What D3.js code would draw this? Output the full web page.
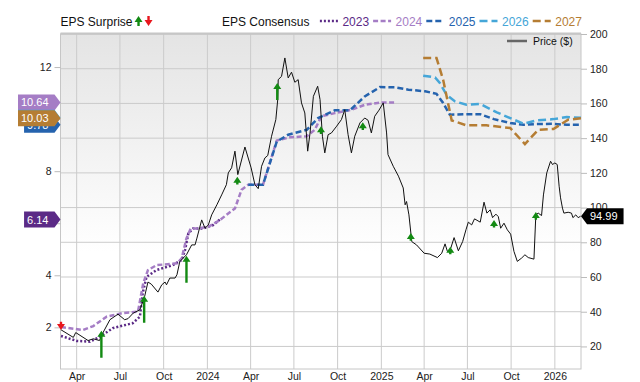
<!DOCTYPE html>
<html>
<head>
<meta charset="utf-8">
<script src="https://cdn.jsdelivr.net/npm/d3@7"></script>
<style>
body { margin: 0; background: #fff; }
svg { display: block; font-family: "Liberation Sans", Arial, sans-serif; }
</style>
</head>
<body>
<script>
// price history ($)
const price = [["2023-02-27",29.6],["2023-03-25",25.2],["2023-03-30",28.0],["2023-04-25",23.4],["2023-05-06",24.4],["2023-05-19",23.4],["2023-05-24",26.7],["2023-06-10",35.4],["2023-06-27",38.6],["2023-07-11",35.4],["2023-07-18",36.0],["2023-07-29",39.2],["2023-08-12",41.1],["2023-08-22",48.8],["2023-08-29",57.1],["2023-09-05",55.9],["2023-09-19",51.3],["2023-09-27",55.5],["2023-10-04",57.1],["2023-10-07",55.5],["2023-10-14",59.4],["2023-10-25",59.4],["2023-10-29",61.3],["2023-11-04",68.9],["2023-11-18",72.8],["2023-11-29",78.5],["2023-12-06",78.5],["2023-12-10",82.4],["2023-12-20",92.9],["2023-12-27",88.1],["2024-01-03",90.0],["2024-01-10",95.8],["2024-01-21",101.6],["2024-01-31",107.3],["2024-02-10",113.2],["2024-02-14",120.0],["2024-02-21",122.9],["2024-02-28",132.5],["2024-03-05",119.0],["2024-03-20",134.9],["2024-04-02",122.9],["2024-04-10",113.2],["2024-04-17",110.9],["2024-04-24",123.8],["2024-05-01",128.6],["2024-05-07",130.0],["2024-05-15",141.1],["2024-05-24",150.7],["2024-05-28",162.2],["2024-05-29",173.7],["2024-06-05",175.6],["2024-06-12",186.2],["2024-06-19",174.7],["2024-06-26",178.0],["2024-07-03",172.2],["2024-07-10",173.7],["2024-07-17",160.3],["2024-07-24",154.5],["2024-07-30",132.5],["2024-08-04",143.0],["2024-08-11",164.1],["2024-08-20",169.9],["2024-08-25",162.2],["2024-08-30",141.1],["2024-09-04",131.5],["2024-09-11",142.0],["2024-09-18",143.0],["2024-09-29",146.9],["2024-10-09",150.7],["2024-10-16",156.4],["2024-10-23",142.0],["2024-10-30",131.5],["2024-11-06",141.1],["2024-11-17",148.8],["2024-11-27",151.6],["2024-12-04",150.3],["2024-12-11",143.0],["2024-12-18",152.6],["2024-12-27",156.1],["2025-01-05",160.3],["2025-01-12",143.0],["2025-01-15",130.5],["2025-01-26",123.8],["2025-02-06",118.1],["2025-02-16",111.3],["2025-02-20",101.6],["2025-02-23",103.5],["2025-02-28",95.8],["2025-03-06",80.4],["2025-03-16",78.5],["2025-04-01",73.7],["2025-04-13",73.2],["2025-04-29",71.2],["2025-05-08",73.7],["2025-05-15",79.1],["2025-05-20",74.7],["2025-05-27",76.6],["2025-06-03",82.7],["2025-06-12",75.1],["2025-06-21",80.4],["2025-06-28",87.2],["2025-07-03",91.6],["2025-07-10",90.0],["2025-07-16",93.5],["2025-07-28",91.6],["2025-08-05",103.1],["2025-08-11",96.8],["2025-08-18",98.7],["2025-08-23",94.2],["2025-08-30",96.2],["2025-09-04",94.8],["2025-09-09",88.1],["2025-09-16",91.0],["2025-09-23",87.2],["2025-09-30",84.7],["2025-10-07",74.7],["2025-10-14",69.0],["2025-10-23",70.9],["2025-10-30",72.8],["2025-11-06",71.2],["2025-11-18",70.3],["2025-11-22",95.8],["2025-11-27",96.8],["2025-12-04",95.4],["2025-12-08",107.3],["2025-12-15",120.0],["2025-12-23",126.7],["2025-12-27",124.8],["2026-01-01",125.7],["2026-01-06",124.8],["2026-01-10",112.3],["2026-01-13",105.6],["2026-01-17",99.7],["2026-01-20",96.8],["2026-01-29",97.3],["2026-02-05",96.8],["2026-02-08",94.2],["2026-02-14",95.8],["2026-02-19",94.2],["2026-02-24",94.99]]

// EPS consensus per fiscal year
const eps2023 = [["2023-02-27",1.67],["2023-04-01",1.48],["2023-04-29",1.45],["2023-05-20",1.64],["2023-06-16",1.97],["2023-07-28",2.16],["2023-08-12",2.41],["2023-08-18",3.32],["2023-08-26",3.94],["2023-09-16",4.20],["2023-10-20",4.39],["2023-11-08",4.59],["2023-11-15",4.97],["2023-11-22",5.61],["2023-12-02",5.80],["2023-12-23",5.80],["2024-01-13",5.93],["2024-01-27",6.14]]
const eps2024 = [["2023-02-27",2.01],["2023-04-14",1.90],["2023-05-06",2.05],["2023-06-03",2.41],["2023-07-07",2.55],["2023-08-08",2.60],["2023-08-19",3.69],["2023-08-29",4.20],["2023-09-16",4.39],["2023-10-29",4.46],["2023-11-08",4.65],["2023-11-18",5.42],["2023-11-27",5.80],["2023-12-09",5.80],["2024-01-03",5.86],["2024-01-27",6.12],["2024-02-28",6.57],["2024-03-13",7.29],["2024-03-27",7.48],["2024-04-27",7.48],["2024-05-26",9.18],["2024-06-23",9.30],["2024-07-28",9.34],["2024-08-14",9.59],["2024-08-28",10.11],["2024-09-25",10.23],["2024-10-30",10.36],["2024-11-27",10.55],["2025-01-02",10.64],["2025-01-30",10.64]]
const eps2025 = [["2024-03-27",7.48],["2024-04-27",7.48],["2024-05-26",9.14],["2024-06-19",9.40],["2024-07-28",9.59],["2024-08-21",10.04],["2024-09-25",10.34],["2024-10-27",10.34],["2024-11-27",10.87],["2024-12-29",11.23],["2025-01-30",11.22],["2025-02-27",11.13],["2025-04-03",11.07],["2025-04-27",10.97],["2025-05-11",10.62],["2025-05-25",10.17],["2025-06-26",10.19],["2025-07-28",10.19],["2025-08-26",10.00],["2025-09-29",9.85],["2025-10-27",9.78],["2025-11-24",9.81],["2025-12-29",9.82],["2026-01-26",9.78],["2026-02-25",9.78]]
const eps2026 = [["2025-03-30",11.67],["2025-04-24",11.60],["2025-05-04",11.39],["2025-05-18",10.94],["2025-06-05",10.68],["2025-06-29",10.55],["2025-07-28",10.58],["2025-09-01",10.26],["2025-09-29",10.04],["2025-10-27",9.82],["2025-11-24",9.95],["2025-12-29",10.00],["2026-01-26",10.08],["2026-02-25",10.05]]
const eps2027 = [["2025-03-30",12.35],["2025-04-27",12.35],["2025-05-11",11.51],["2025-05-29",9.95],["2025-06-29",9.76],["2025-08-10",9.76],["2025-09-29",9.66],["2025-10-30",9.04],["2025-11-27",9.59],["2025-12-29",9.62],["2026-01-29",9.98],["2026-02-25",10.03]]

// EPS surprise: report date, surprise %, price at report
const surprises = [["2023-02-27",-2,29.4],["2023-05-23",28,29.0],["2023-08-21",28,49.2],["2023-11-18",28,72.2],["2024-03-04",1,117.7],["2024-05-27",14,171.8],["2024-08-27",1,146.9],["2024-11-23",1,149.2],["2025-03-04",1,85.3],["2025-05-26",1,77.5],["2025-08-26",1,92.9],["2025-11-22",1,97.4]]

const years = ["2023", "2024", "2025", "2026", "2027"]
const priceTicks = [20, 40, 60, 80, 100, 120, 140, 160, 180, 200]
const epsTicks = [2, 4, 6, 8, 10, 12]

const series = [
  {name: years[0], data: eps2023, color: "#5b2a86", dash: "2,2"},
  {name: years[1], data: eps2024, color: "#a57dc5", dash: "5,2.5"},
  {name: years[2], data: eps2025, color: "#2563ae", dash: "6,3"},
  {name: years[3], data: eps2026, color: "#45a6d8", dash: "8,4"},
  {name: years[4], data: eps2027, color: "#b57d33", dash: "8,4"}
]

let width = 640
let height = 382
const pl = 60.5, pr = 581, pt = 34, pb = 369
const parse = d3.timeParse("%Y-%m-%d")

let svg = d3.select("body").append("svg")
    .attr("width", width)
    .attr("height", height)

let x = d3.scaleTime()
    .domain([parse("2023-02-26"), parse("2026-02-25")])
    .range([pl, pr])
let yR = d3.scaleLinear().domain([7, 200]).range([pb, pt])
let yL = d3.scaleLinear().domain([0.4, 13.27]).range([pb, pt])

// plot background
let grad = svg.append("defs").append("linearGradient")
    .attr("id", "bg").attr("x1", 0).attr("y1", 0).attr("x2", 0).attr("y2", 1)
grad.append("stop").attr("offset", "0%").attr("stop-color", "#e4e4e4")
grad.append("stop").attr("offset", "65%").attr("stop-color", "#ffffff")
svg.append("rect")
    .attr("x", pl).attr("y", pt)
    .attr("width", pr - pl).attr("height", pb - pt)
    .attr("fill", "url(#bg)")

// grid
svg.append("g").selectAll("line")
    .data(priceTicks).enter().append("line")
    .attr("x1", pl).attr("x2", pr)
    .attr("y1", d => yR(d)).attr("y2", d => yR(d))
    .attr("stroke", "#cbcbcb")
let monthTicks = x.ticks(d3.timeMonth.every(3))
svg.append("g").selectAll("line")
    .data(monthTicks).enter().append("line")
    .attr("x1", d => x(d)).attr("x2", d => x(d))
    .attr("y1", pt).attr("y2", pb)
    .attr("stroke", "#cbcbcb")

// frame
svg.append("rect")
    .attr("x", pl).attr("y", pt)
    .attr("width", pr - pl).attr("height", pb - pt)
    .attr("fill", "none").attr("stroke", "#c6c6c6")
svg.append("line")
    .attr("x1", pl).attr("x2", pr).attr("y1", pt - 0.5).attr("y2", pt - 0.5)
    .attr("stroke", "#c6c6c6").attr("stroke-width", 2)

// axes
let axR = svg.append("g")
    .attr("transform", `translate(${pr},0)`)
    .call(d3.axisRight(yR).tickValues(priceTicks).tickSize(6).tickPadding(3))
let axL = svg.append("g")
    .attr("transform", `translate(${pl},0)`)
    .call(d3.axisLeft(yL).tickValues(epsTicks).tickSize(6).tickPadding(3).tickFormat(d3.format("d")))
let axB = svg.append("g")
    .attr("transform", `translate(0,${pb})`)
    .call(d3.axisBottom(x).tickValues(monthTicks).tickSize(0).tickPadding(4)
        .tickFormat(d => d.getMonth() === 0 ? d3.timeFormat("%Y")(d) : d3.timeFormat("%b")(d)))
;[axR, axL, axB].forEach(a => {
    a.select(".domain").remove()
    a.selectAll(".tick line").attr("stroke", "#bbb")
    a.selectAll("text").attr("fill", "#222").style("font-size", "10.5px")
        .style("font-family", '"Liberation Sans", Arial, sans-serif')
})

// consensus lines
let epsLine = d3.line()
    .x(d => x(parse(d[0])))
    .y(d => yL(d[1]))
svg.append("g").selectAll("path")
    .data(series).enter().append("path")
    .attr("d", d => epsLine(d.data))
    .attr("fill", "none")
    .attr("stroke", d => d.color)
    .attr("stroke-width", 2.5)
    .attr("stroke-dasharray", d => d.dash)

// price line
let priceLine = d3.line()
    .x(d => x(parse(d[0])))
    .y(d => yR(d[1]))
svg.append("path")
    .attr("d", priceLine(price))
    .attr("fill", "none")
    .attr("stroke", "#111")
    .attr("stroke-width", 1)

// surprise arrows
let len = d3.scaleLinear().domain([0, 28]).range([7, 27]).clamp(true)
function arrowPath(cx, tipY, l, up) {
    let s = up ? 1 : -1
    return `M${cx},${tipY} L${cx + 4},${tipY + 6 * s} L${cx + 1.2},${tipY + 6 * s} L${cx + 1.2},${tipY + l * s} ` +
        `L${cx - 1.2},${tipY + l * s} L${cx - 1.2},${tipY + 6 * s} L${cx - 4},${tipY + 6 * s} Z`
}
svg.append("g").selectAll("path")
    .data(surprises).enter().append("path")
    .attr("d", d => arrowPath(x(parse(d[0])), yR(d[2]), len(Math.abs(d[1])), d[1] > 0))
    .attr("fill", d => d[1] > 0 ? "#138a13" : "#e8161d")

// badges
function badge(tipX, yc, label, color, pointLeft) {
    let g = svg.append("g")
    let t = g.append("text").text(label)
        .attr("fill", "#fff").style("font-size", "11px")
        .attr("y", yc + 4)
    let tw = t.node().getComputedTextLength()
    let w = tw + 9
    let pts
    if (pointLeft) {
        pts = [[tipX, yc], [tipX + 6, yc - 8], [tipX + 6 + w, yc - 8], [tipX + 6 + w, yc + 8], [tipX + 6, yc + 8]]
        t.attr("x", tipX + 9)
    } else {
        pts = [[tipX, yc], [tipX - 6, yc + 8], [tipX - 6 - w, yc + 8], [tipX - 6 - w, yc - 8], [tipX - 6, yc - 8]]
        t.attr("x", tipX - 6 - w + 3)
    }
    g.insert("polygon", "text").attr("points", pts.map(p => p.join(",")).join(" ")).attr("fill", color)
}
series.forEach(s => {
    let last = s.data[s.data.length - 1][1]
    badge(pl, yL(last), d3.format(".2f")(last), s.color, false)
})
let lastPrice = price[price.length - 1][1]
badge(pr, yR(lastPrice), d3.format(".2f")(lastPrice), "#000", true)

// top legend
let legend = svg.append("g").style("font-size", "12px")
let t1 = legend.append("text").attr("x", pl).attr("y", 26).attr("fill", "#111").text("EPS Surprise")
let e1 = pl + t1.node().getComputedTextLength()
legend.append("path").attr("d", arrowPath(e1 + 6, 16, 10, true)).attr("fill", "#138a13")
legend.append("path").attr("d", arrowPath(e1 + 16, 26, 10, false)).attr("fill", "#e8161d")
let t2 = legend.append("text").attr("x", 222).attr("y", 26).attr("fill", "#111").text("EPS Consensus")
let lx = 222 + t2.node().getComputedTextLength() + 10.5
series.forEach(s => {
    legend.append("line")
        .attr("x1", lx).attr("x2", lx + 18).attr("y1", 21).attr("y2", 21)
        .attr("stroke", s.color).attr("stroke-width", 2.5).attr("stroke-dasharray", s.dash)
    let t = legend.append("text").attr("x", lx + 22.5).attr("y", 26).attr("fill", s.color).text(s.name)
    lx = lx + 22.5 + t.node().getComputedTextLength() + 4
})

// price legend
svg.append("line")
    .attr("x1", 507).attr("x2", 527).attr("y1", 41).attr("y2", 41)
    .attr("stroke", "#666").attr("stroke-width", 2.5)
svg.append("text").attr("x", 533).attr("y", 45)
    .style("font-size", "10.5px").attr("fill", "#111").text("Price ($)")
</script>
</body>
</html>
